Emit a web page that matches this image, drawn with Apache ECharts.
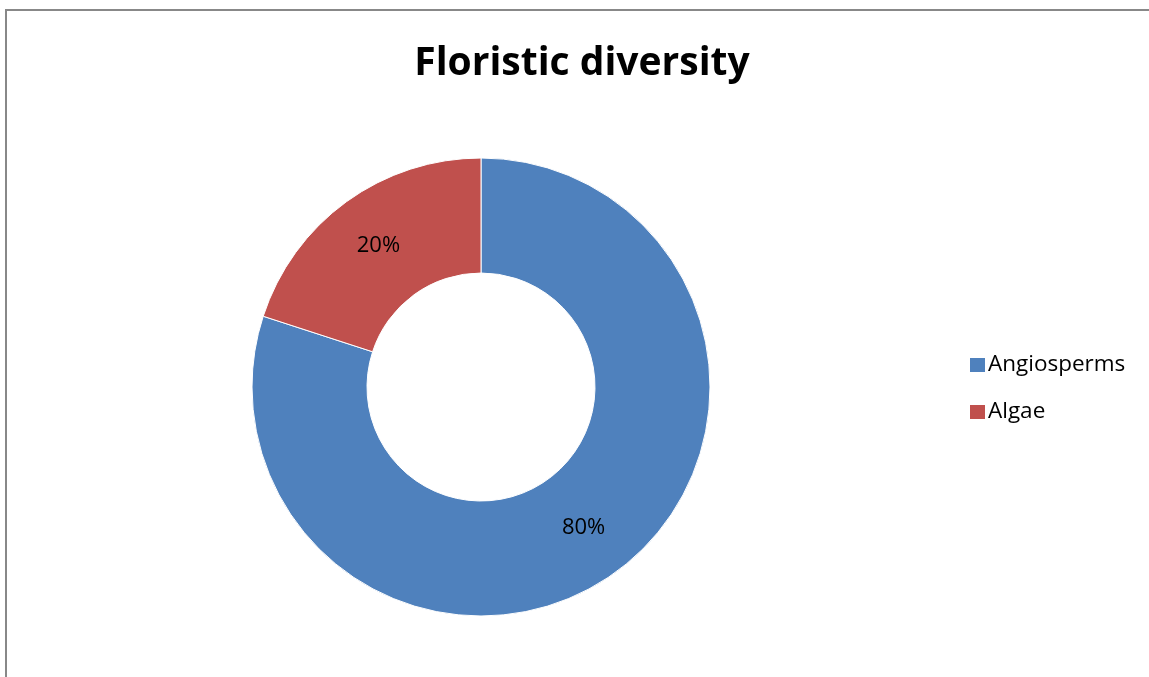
<!DOCTYPE html>
<html><head><meta charset="utf-8">
<script src="https://cdn.jsdelivr.net/npm/echarts@6/dist/echarts.min.js"></script>
<style>html,body{margin:0;padding:0;background:#fff}#c{width:1149px;height:677px}</style>
</head><body><div id="c"></div>
<script>
const categories = ["Angiosperms", "Algae"];
const values = [80, 20];
const colors = ["#4F81BD", "#C0504D"];
const titleText = "Floristic diversity";

const chart = echarts.init(document.getElementById('c'));
chart.setOption({
  backgroundColor: '#fff',
  animation: false,
  title: {
    text: titleText, left: 582, top: 44, textAlign: 'center', padding: 0,
    textStyle: { fontFamily: 'Open Sans', fontWeight: 'bold', fontSize: 39, color: '#000' }
  },
  graphic: [{
    type: 'polyline', silent: true,
    shape: { points: [[6, 700], [6, 10], [1200, 10]] },
    style: { stroke: '#888', lineWidth: 2, fill: null }
  }],
  legend: {
    orient: 'vertical', left: 970, top: 353, padding: 0,
    itemWidth: 15, itemHeight: 14, itemGap: 23, icon: 'rect',
    itemStyle: { borderWidth: 0 },
    textStyle: { fontFamily: 'Open Sans', fontSize: 22.5, color: '#000', lineHeight: 24, padding: [0,0,0,-2] },
    data: categories
  },
  color: colors,
  series: [{
    type: 'pie', center: [481, 387], radius: [114, 229],
    startAngle: 90, clockwise: true,
    itemStyle: { borderColor: '#fff', borderWidth: 1 },
    label: { position: 'inside', formatter: '{d}%', color: '#000', fontSize: 22, fontFamily: 'Open Sans' },
    labelLine: { show: false },
    data: categories.map((c, i) => ({ name: c, value: values[i] }))
  }]
});
</script></body></html>
